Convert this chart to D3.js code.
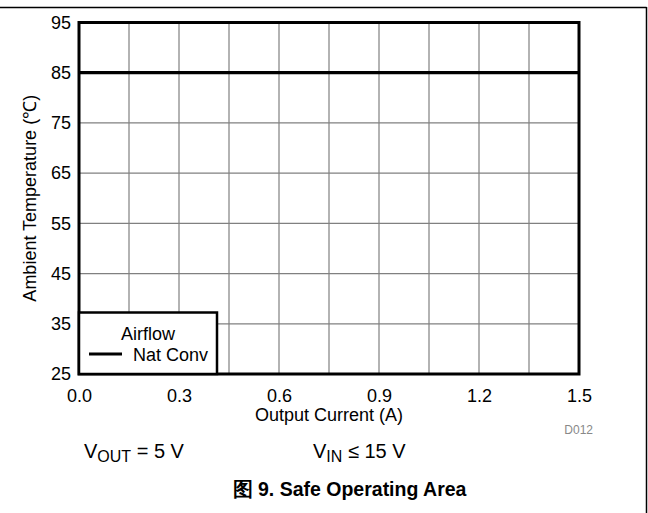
<!DOCTYPE html>
<html><head><meta charset="utf-8">
<script src="https://cdn.jsdelivr.net/npm/d3@7"></script>
<style>body{margin:0;background:#fff}svg{display:block}text{font-family:"Liberation Sans",Arial,sans-serif}</style>
</head><body>
<script>
const xTicks = [0.0, 0.3, 0.6, 0.9, 1.2, 1.5];
const yTicks = [25, 35, 45, 55, 65, 75, 85, 95];
const xGrid = [0.15, 0.3, 0.45, 0.6, 0.75, 0.9, 1.05, 1.2, 1.35];
const seriesX = [0.0, 1.5];
const seriesY = [85, 85];
const seriesName = "Nat Conv";

const W = 648, H = 513;
const m = {l: 79, t: 22.5, r: 579, b: 374};
const svg = d3.select("body").append("svg").attr("width", W).attr("height", H);
const x = d3.scaleLinear().domain([0, 1.5]).range([m.l, m.r]);
const y = d3.scaleLinear().domain([25, 95]).range([m.b, m.t]);

// outer frame
svg.append("line").attr("x1", 0).attr("x2", 646.5).attr("y1", 7.5).attr("y2", 7.5).attr("stroke", "#000").attr("stroke-width", 1.5);
svg.append("line").attr("x1", 646.5).attr("x2", 646.5).attr("y1", 7).attr("y2", H).attr("stroke", "#000").attr("stroke-width", 1.5);

// grid
svg.append("g").selectAll("line").data(xGrid).join("line")
  .attr("x1", d => x(d)).attr("x2", d => x(d)).attr("y1", m.t).attr("y2", m.b)
  .attr("stroke", "#808080").attr("stroke-width", 1.2);
svg.append("g").selectAll("line").data(yTicks.slice(1, -1)).join("line")
  .attr("x1", m.l).attr("x2", m.r).attr("y1", d => y(d)).attr("y2", d => y(d))
  .attr("stroke", "#808080").attr("stroke-width", 1.2);

// axes (labels)
const xAxis = d3.axisBottom(x).tickValues(xTicks).tickFormat(d3.format(".1f")).tickSize(0).tickPadding(15);
const gx = svg.append("g").attr("transform", `translate(0,${m.b})`).call(xAxis);
gx.select(".domain").remove();
gx.selectAll("text").attr("font-size", 18).attr("fill", "#000").attr("font-family", "Liberation Sans, Arial, sans-serif");
const yAxis = d3.axisLeft(y).tickValues(yTicks).tickSize(0).tickPadding(8);
const gy = svg.append("g").attr("transform", `translate(${m.l},0)`).call(yAxis);
gy.select(".domain").remove();
gy.selectAll("text").attr("font-size", 18).attr("fill", "#000").attr("font-family", "Liberation Sans, Arial, sans-serif");

// data line
svg.append("path").datum(seriesX.map((d, i) => [d, seriesY[i]]))
  .attr("d", d3.line().x(d => x(d[0])).y(d => y(d[1])))
  .attr("stroke", "#000").attr("stroke-width", 3.2).attr("fill", "none");

// plot border
svg.append("rect").attr("x", m.l).attr("y", m.t).attr("width", m.r - m.l).attr("height", m.b - m.t)
  .attr("fill", "none").attr("stroke", "#000").attr("stroke-width", 3);

// legend
const lg = svg.append("g");
lg.append("rect").attr("x", m.l).attr("y", 312.5).attr("width", 138).attr("height", m.b - 312.5)
  .attr("fill", "#fff").attr("stroke", "#000").attr("stroke-width", 2.5);
lg.append("text").attr("x", 148).attr("y", 340).attr("text-anchor", "middle").attr("font-size", 18).text("Airflow");
lg.append("line").attr("x1", 89).attr("x2", 122).attr("y1", 354).attr("y2", 354).attr("stroke", "#000").attr("stroke-width", 3);
lg.append("text").attr("x", 133).attr("y", 361).attr("font-size", 18).text(seriesName);

// titles
svg.append("text").attr("x", (m.l + m.r) / 2).attr("y", 421).attr("text-anchor", "middle").attr("font-size", 18).text("Output Current (A)");
svg.append("text").attr("transform", `translate(36,${(m.t + m.b) / 2}) rotate(-90)`).attr("text-anchor", "middle").attr("font-size", 18).text("Ambient Temperature (℃)");
svg.append("text").attr("x", 593).attr("y", 434).attr("text-anchor", "end").attr("font-size", 12).attr("fill", "#888").text("D012");

// conditions
const t1 = svg.append("text").attr("x", 84).attr("y", 458).attr("font-size", 20);
t1.append("tspan").text("V");
t1.append("tspan").attr("font-size", 16).attr("dy", 4).text("OUT");
t1.append("tspan").attr("dy", -4).text(" = 5 V");
const t2 = svg.append("text").attr("x", 313).attr("y", 458).attr("font-size", 20);
t2.append("tspan").text("V");
t2.append("tspan").attr("font-size", 16).attr("dy", 4).text("IN");
t2.append("tspan").attr("dy", -4).text(" ≤ 15 V");

// caption
svg.append("text").attr("x", 349.5).attr("y", 496).attr("text-anchor", "middle").attr("font-size", 19.5).attr("font-weight", "bold")
  .attr("font-family", "'Liberation Sans', 'Noto Sans CJK SC', sans-serif").text("图 9. Safe Operating Area");
</script>
</body></html>
